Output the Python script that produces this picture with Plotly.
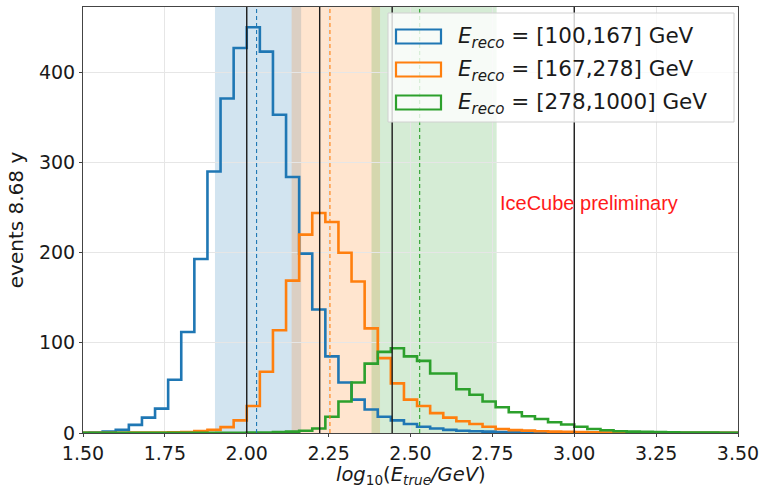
import numpy as np
import plotly.graph_objects as go

# ---------------- data ----------------
# histogram bin edges in log10(E_true/GeV): 0.04 wide, 1.48 ... 3.52
bin_edges = [round(1.48 + 0.04 * i, 2) for i in range(52)]

counts_100_167 = [0.3, 0.6, 1.5, 3.5, 9, 17, 27, 59, 112, 193, 290, 371, 427, 450, 423, 353,
                  284, 199, 137, 85, 56, 37, 26, 18, 14, 10, 7, 5, 3.5, 2.5, 2, 1.5, 1.1, 0.8,
                  0.6, 0.5, 0.4, 0.3, 0.3, 0.2, 0.2, 0.2, 0.1, 0.1, 0.1, 0.1, 0.1, 0.1, 0.1, 0.1, 0.1]
counts_167_278 = [0.2, 0.2, 0.3, 0.3, 0.4, 0.5, 0.6, 0.8, 1.1, 2.2, 3.5, 6.5, 14, 30, 68, 114,
                  169, 220, 244, 234, 200, 168, 116, 83, 55, 37, 30, 22, 17, 13, 10, 7, 4.5, 3.2,
                  2.6, 2, 1.5, 1.2, 1, 0.8, 0.6, 0.5, 0.4, 0.3, 0.2, 0.2, 0.2, 0.1, 0.1, 0.1, 0.1]
counts_278_1000 = [0.1, 0.1, 0.1, 0.1, 0.1, 0.1, 0.1, 0.1, 0.1, 0.1, 0.1, 0.2, 0.3, 0.4, 0.6, 1,
                   1.5, 2.5, 5, 18, 35, 56, 77, 90, 94, 85, 80, 66, 66, 48.5, 42.5, 35, 28.5, 23,
                   18.5, 15.5, 12, 9.5, 7, 4.5, 3, 2, 1.5, 1.2, 1, 0.8, 0.6, 0.5, 0.4, 0.3, 0.3]

labels = ["<i>E</i><sub><i>reco</i></sub> = [100,167] GeV",
          "<i>E</i><sub><i>reco</i></sub> = [167,278] GeV",
          "<i>E</i><sub><i>reco</i></sub> = [278,1000] GeV"]
colors = ["#1f77b4", "#ff7f0e", "#2ca02c"]

# shaded ranges and medians in log10(E_true/GeV)
band_lo = [1.903, 2.137, 2.381]
band_hi = [2.166, 2.407, 2.763]
medians = [2.030, 2.254, 2.528]
ereco_edges_gev = [100, 167, 278, 1000]

x_ticks = [1.50, 1.75, 2.00, 2.25, 2.50, 2.75, 3.00, 3.25, 3.50]
y_ticks = [0, 100, 200, 300, 400]

# ---------------- figure ----------------
L, R, T, B = 83, 738, 7, 433
W, H = 765, 490


def px(xp):
    return (xp - L) / (R - L)


def py(yp):
    return (B - yp) / (B - T)


fig = go.Figure()
series = [counts_100_167, counts_167_278, counts_278_1000]
for cnt, col, lab in zip(series, colors, labels):
    xs = [bin_edges[0]] + bin_edges
    ys = [0] + cnt + [0]
    fig.add_trace(go.Scatter(x=xs, y=ys, mode="lines", line=dict(color=col, width=2.6, shape="hv"),
                             name=lab, showlegend=False, hoverinfo="skip"))

shapes = []
for lo, hi, col in zip(band_lo, band_hi, colors):
    shapes.append(dict(type="rect", xref="x", yref="paper", x0=lo, x1=hi, y0=0, y1=1,
                       fillcolor=col, opacity=0.2, line=dict(width=0), layer="below"))
for e in ereco_edges_gev:
    v = float(np.log10(e))
    shapes.append(dict(type="line", xref="x", yref="paper", x0=v, x1=v, y0=0, y1=1,
                       line=dict(color="#1a1a1a", width=1.4), layer="above"))
for m, col in zip(medians, colors):
    shapes.append(dict(type="line", xref="x", yref="paper", x0=m, x1=m, y0=0, y1=1,
                       line=dict(color=col, width=1.1, dash="4px,3px"), layer="above"))

# legend (drawn by hand to mimic matplotlib outline patches)
shapes.append(dict(type="rect", xref="paper", yref="paper", x0=px(388), x1=px(734),
                   y0=py(122), y1=py(13), fillcolor="rgba(255,255,255,0.8)",
                   line=dict(color="#d0d0d0", width=1), layer="above"))
annotations = []
row_y = [36.5, 69.5, 102.5]
for ry, col, lab in zip(row_y, colors, labels):
    shapes.append(dict(type="rect", xref="paper", yref="paper", x0=px(396), x1=px(441),
                       y0=py(ry + 7), y1=py(ry - 7), fillcolor="rgba(0,0,0,0)",
                       line=dict(color=col, width=2.2), layer="above"))
    annotations.append(dict(xref="paper", yref="paper", x=px(456), y=py(ry + 1), text=lab,
                            showarrow=False, xanchor="left", yanchor="middle",
                            font=dict(family="DejaVu Sans", size=21.5, color="#1a1a1a")))

annotations.append(dict(xref="paper", yref="paper", x=px(589), y=py(203),
                        text="IceCube preliminary", showarrow=False,
                        xanchor="center", yanchor="middle",
                        font=dict(family="Liberation Sans", size=20, color="#ff1a1a")))

# x-axis label placed directly under the tick labels
annotations.append(dict(xref="paper", yref="paper", x=0.5, y=py(475),
                        text="<i>log</i><sub>10</sub>(<i>E</i><sub><i>true</i></sub><i>/GeV</i>)",
                        showarrow=False, xanchor="center", yanchor="middle",
                        font=dict(family="DejaVu Sans", size=19.5, color="#1a1a1a")))

axis_common = dict(showline=True, mirror=True, linecolor="#444", linewidth=1,
                   showgrid=True, gridcolor="#e6e6e6", gridwidth=1, zeroline=False,
                   ticks="outside", ticklen=3, tickcolor="#444", automargin=False,
                   tickfont=dict(family="DejaVu Sans", size=19, color="#1a1a1a"))

fig.update_layout(
    width=W, height=H,
    margin=dict(l=L, r=W - R, t=T, b=H - B, autoexpand=False),
    paper_bgcolor="white", plot_bgcolor="white",
    shapes=shapes, annotations=annotations, showlegend=False,
    xaxis=dict(range=[1.5, 3.5], tickvals=x_ticks, ticktext=[f"{v:.2f}" for v in x_ticks],
               **axis_common),
    yaxis=dict(range=[0, 472.5], tickvals=y_ticks,
               title=dict(text="events 8.68 y",
                          font=dict(family="DejaVu Sans", size=20, color="#1a1a1a"), standoff=9),
               **axis_common),
)

fig.write_html("out.html", config={"displayModeBar": False},
               post_script="document.body.style.margin='0px';")
